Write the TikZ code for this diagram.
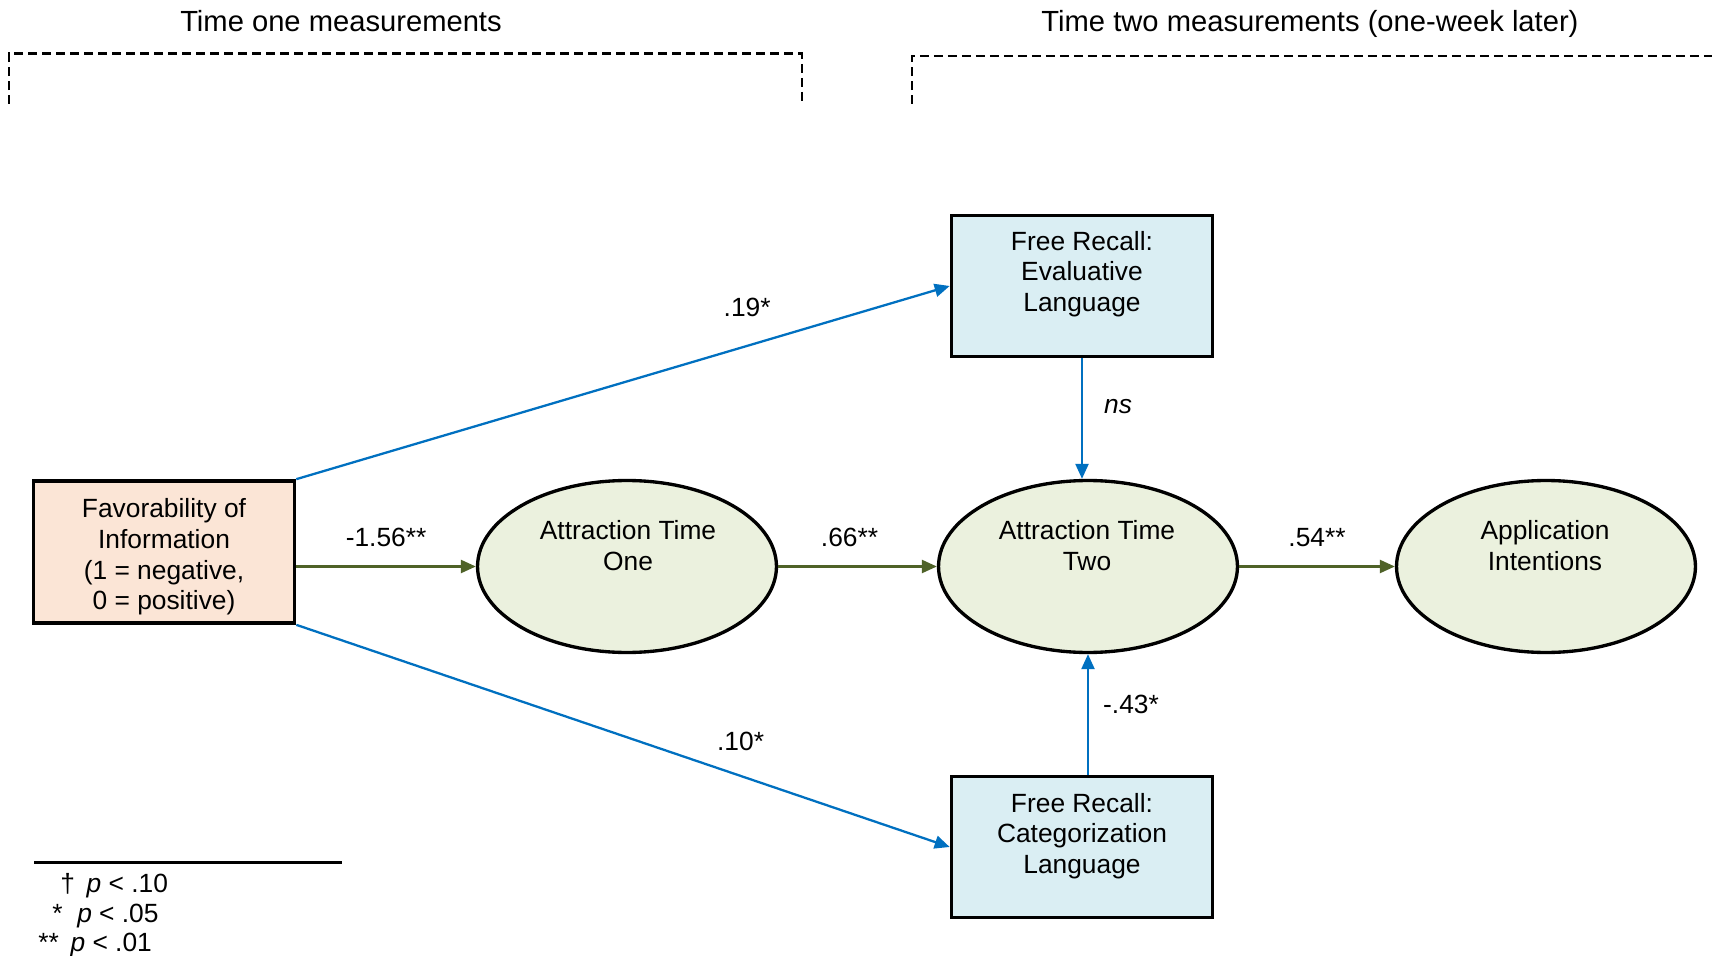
\documentclass[tikz,border=0pt]{standalone}
\usepackage{fontspec}
\setmainfont{Liberation Sans}
\usepackage{tikz}
\usetikzlibrary{arrows.meta, shapes.geometric, positioning}
\definecolor{favfill}{HTML}{FBE5D6}
\definecolor{recallfill}{HTML}{DAEEF3}
\definecolor{ovalfill}{HTML}{EBF1DE}
\definecolor{pathgreen}{HTML}{4F6228}
\definecolor{pathblue}{HTML}{0070C0}
\newcommand{\bodyfont}{\fontsize{15}{17.4}\selectfont}
\tikzset{
         mybox/.style={draw, line width=2.1pt, fill=favfill, minimum width=5.22cm, minimum height=2.84cm},
         myrecall/.style={draw, line width=2.1pt, fill=recallfill, minimum width=5.22cm, minimum height=2.82cm},
         myoval/.style={draw, ellipse, line width=1.9pt, fill=ovalfill, minimum width=5.98cm, minimum height=3.44cm},
         mytext/.style={align=center, inner sep=0pt, font=\bodyfont},
         mylbl/.style={inner sep=0pt, text=black, font=\bodyfont},
         mytitle/.style={inner sep=0pt, anchor=base, font=\fontsize{16.6}{20}\selectfont}
      }

\begin{document}
\begin{tikzpicture}[x=0.02cm, y=-0.02cm, >={Triangle[length=0.3cm,width=0.26cm]}]
                  \tikzstyle{greenline} = [draw, ->, pathgreen, line width=1.3pt]
                  \tikzstyle{blueline} = [draw, ->, pathblue, line width=1.3pt]
                  \useasboundingbox (0,0) rectangle (1712,956);
                     % time brackets
                     \node[mytitle] (titleone) at (341,31.5) {Time one measurements};
                     \node[mytitle] (titletwo) at (1310,31.5) {Time two measurements (one-week later)};
                     \draw[dash pattern=on 0.18cm off 0.1cm, line width=1.3pt] (9,104) -- (9,53.5) -- (802,53.5) -- (802,104);
                     \draw[dash pattern=on 0.18cm off 0.1cm, line width=1.3pt] (912,104) -- (912,56) -- (1712,56);
                     % boxes and ovals
                     \node[mybox] (fav) at (164,552) {};
                     \node[mytext] (favtxt) at (164,557) {Favorability of\\Information\\(1 = negative,\\0 = positive)};
                     \node[myrecall] (eval) at (1082,286) {};
                     \node[mytext] (evaltxt) at (1082,274) {Free Recall:\\Evaluative\\Language};
                     \node[myrecall] (cat) at (1082,847) {};
                     \node[mytext] (cattxt) at (1082,836) {Free Recall:\\Categorization\\Language};
                     \node[myoval] (atone) at (627,566.5) {};
                     \node[mytext] (atonetxt) at (628,545.5) {Attraction Time\\One};
                     \node[myoval] (attwo) at (1088,566.5) {};
                     \node[mytext] (attwotxt) at (1087,545.5) {Attraction Time\\Two};
                     \node[myoval] (appint) at (1546,566.5) {};
                     \node[mytext] (appinttxt) at (1545,545.5) {Application\\Intentions};
                     % paths
                     \path [greenline] (atone.west -| fav.east) -- node[mylbl, above=0.37cm] (lblone) {-1.56**} (atone.west);
                     \path [greenline] (atone.east) -- node[mylbl, above=0.37cm, pos=0.45] (lbltwo) {.66**} (attwo.west);
                     \path [greenline] (attwo.east) -- node[mylbl, above=0.37cm] (lblthree) {.54**} (appint.west);
                     \path [blueline] (fav.north east) -- node[mylbl, above=0.55cm, pos=0.69] (lblfour) {.19*} (eval.west);
                     \path [blueline] (fav.south east) -- node[mylbl, above=0.49cm, pos=0.68] (lblfive) {.10*} (cat.west);
                     \path [blueline] (eval.south) -- node[mylbl, right=0.42cm, pos=0.4] (lblsix) {\textit{ns}} (eval.south |- attwo.north);
                     \path [blueline] (cat.north -| attwo.south) -- node[mylbl, right=0.28cm, pos=0.58] (lblseven) {-.43*} (attwo.south);
                     % legend
                     \coordinate (legl) at (34,862.5);
                     \coordinate (legr) at (342,862.5);
                     \draw[line width=1.3pt] (legl) -- (legr);
                     \node[mylbl, anchor=west] (legone) at (60,885.5) {† \,\textit{p} < .10};
                     \node[mylbl, anchor=west] (legtwo) at (52,916.5) {*\ \ \textit{p} < .05};
                     \node[mylbl, anchor=west] (legthree) at (38,945.5) {** \,\textit{p} < .01};
               \end{tikzpicture}
\end{document}
